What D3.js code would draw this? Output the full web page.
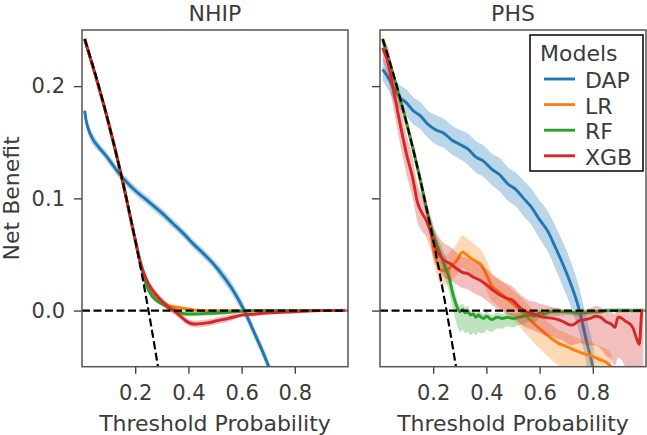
<!DOCTYPE html>
<html>
<head>
<meta charset="utf-8">
<script src="https://cdn.jsdelivr.net/npm/d3@7"></script>
<style>
    body { margin: 0; background: #fff; }
    svg text { font-family: "DejaVu Sans", sans-serif; fill: #3b3b3b; }
</style>
</head>
<body>
<div id="chart"></div>
<script>
// Panels, models and ticks
const panels = ["NHIP", "PHS"];
const models = ["DAP", "LR", "RF", "XGB"];
const xTicks = [0.2, 0.4, 0.6, 0.8];
const yTicks = [0.0, 0.1, 0.2];

// Reference strategies: treat all / treat none
const treatAllX = [0.01, 0.05, 0.1, 0.15, 0.2, 0.25, 0.3];
const treatAllNB = [0.242, 0.211, 0.167, 0.118, 0.063, 0.0, -0.071];
const treatNoneX = [0, 1];
const treatNoneNB = [0, 0];

// ---- NHIP ----
const nhipDapX = [0.01, 0.015, 0.025, 0.04, 0.065, 0.09, 0.115, 0.14, 0.17, 0.2, 0.23, 0.26, 0.3, 0.34, 0.38, 0.42, 0.46, 0.5, 0.53, 0.56, 0.59, 0.62, 0.65, 0.68, 0.715];
const nhipDapNB = [0.178, 0.170, 0.161, 0.153, 0.145, 0.138, 0.130, 0.122, 0.114, 0.107, 0.101, 0.095, 0.087, 0.078, 0.069, 0.059, 0.050, 0.040, 0.031, 0.021, 0.009, -0.005, -0.021, -0.037, -0.058];
const nhipDapBand = [0.005, 0.005, 0.005, 0.005, 0.004, 0.004, 0.004, 0.004, 0.004, 0.004, 0.004, 0.004, 0.004, 0.004, 0.004, 0.004, 0.004, 0.004, 0.005, 0.005, 0.005, 0.005, 0.005, 0.005, 0.005];

const nhipLrX = [0.01, 0.05, 0.1, 0.15, 0.2, 0.22, 0.24, 0.26, 0.29, 0.32, 0.35, 0.38, 0.42, 0.46, 0.6, 0.8, 0.99];
const nhipLrNB = [0.242, 0.210, 0.167, 0.118, 0.063, 0.042, 0.026, 0.018, 0.010, 0.005, 0.003, 0.002, 0.0005, 0.0, 0.0, 0.0, 0.0];
const nhipLrBand = [0.001, 0.001, 0.001, 0.001, 0.002, 0.003, 0.003, 0.003, 0.003, 0.002, 0.002, 0.002, 0.001, 0.001, 0.001, 0.001, 0.001];

const nhipRfX = [0.01, 0.05, 0.1, 0.15, 0.2, 0.22, 0.24, 0.26, 0.28, 0.3, 0.33, 0.36, 0.39, 0.42, 0.47, 0.52, 0.58, 0.65, 0.8, 0.99];
const nhipRfNB = [0.242, 0.210, 0.167, 0.118, 0.063, 0.041, 0.024, 0.014, 0.009, 0.006, 0.002, -0.001, -0.003, -0.003, -0.0025, -0.002, -0.001, 0.0, 0.0, 0.0];
const nhipRfBand = [0.001, 0.001, 0.001, 0.001, 0.002, 0.002, 0.002, 0.002, 0.002, 0.002, 0.002, 0.002, 0.002, 0.002, 0.002, 0.002, 0.001, 0.001, 0.001, 0.001];

const nhipXgbX = [0.01, 0.05, 0.1, 0.15, 0.2, 0.22, 0.24, 0.26, 0.29, 0.32, 0.35, 0.37, 0.39, 0.41, 0.43, 0.47, 0.51, 0.55, 0.6, 0.65, 0.7, 0.8, 0.9, 0.99];
const nhipXgbNB = [0.242, 0.210, 0.167, 0.118, 0.063, 0.043, 0.029, 0.020, 0.011, 0.004, -0.001, -0.005, -0.009, -0.0115, -0.012, -0.011, -0.009, -0.007, -0.004, -0.003, -0.002, -0.001, 0.0, 0.0];
const nhipXgbBand = [0.001, 0.001, 0.001, 0.002, 0.003, 0.003, 0.003, 0.003, 0.003, 0.003, 0.003, 0.003, 0.003, 0.003, 0.003, 0.003, 0.003, 0.003, 0.002, 0.002, 0.002, 0.001, 0.001, 0.001];

// ---- PHS ----
const phsDapX = [0.01, 0.03, 0.05, 0.075, 0.1, 0.125, 0.15, 0.18, 0.21, 0.24, 0.27, 0.3, 0.33, 0.36, 0.39, 0.42, 0.45, 0.48, 0.51, 0.54, 0.57, 0.6, 0.63, 0.66, 0.69, 0.72, 0.745, 0.76, 0.775, 0.79, 0.805];
const phsDapNB = [0.215, 0.208, 0.199, 0.190, 0.185, 0.178, 0.174, 0.166, 0.161, 0.158, 0.152, 0.148, 0.144, 0.137, 0.133, 0.126, 0.121, 0.113, 0.108, 0.100, 0.092, 0.081, 0.071, 0.056, 0.040, 0.022, 0.004, -0.010, -0.026, -0.040, -0.055];
const phsDapBand = [0.010, 0.011, 0.011, 0.011, 0.012, 0.012, 0.012, 0.012, 0.013, 0.013, 0.013, 0.013, 0.014, 0.014, 0.014, 0.014, 0.015, 0.015, 0.015, 0.016, 0.016, 0.017, 0.018, 0.019, 0.020, 0.020, 0.020, 0.020, 0.020, 0.020, 0.020];

const phsLrX = [0.01, 0.05, 0.1, 0.15, 0.19, 0.2, 0.215, 0.23, 0.25, 0.27, 0.29, 0.31, 0.325, 0.34, 0.36, 0.38, 0.40, 0.42, 0.44, 0.46, 0.49, 0.52, 0.55, 0.58, 0.61, 0.64, 0.67, 0.70, 0.73, 0.76, 0.79, 0.82, 0.85, 0.87];
const phsLrNB = [0.242, 0.210, 0.167, 0.118, 0.072, 0.056, 0.043, 0.036, 0.036, 0.040, 0.045, 0.052, 0.050, 0.047, 0.044, 0.041, 0.032, 0.022, 0.018, 0.014, 0.008, 0.002, -0.005, -0.012, -0.018, -0.024, -0.029, -0.032, -0.035, -0.038, -0.040, -0.043, -0.046, -0.050];
const phsLrDown = [0.002, 0.002, 0.002, 0.003, 0.006, 0.010, 0.012, 0.013, 0.013, 0.013, 0.013, 0.014, 0.014, 0.014, 0.014, 0.014, 0.014, 0.013, 0.013, 0.013, 0.014, 0.015, 0.016, 0.017, 0.018, 0.019, 0.020, 0.020, 0.020, 0.020, 0.020, 0.020, 0.020, 0.020];
const phsLrUp = [0.002, 0.002, 0.002, 0.003, 0.006, 0.010, 0.012, 0.013, 0.013, 0.014, 0.015, 0.015, 0.015, 0.015, 0.014, 0.013, 0.013, 0.012, 0.012, 0.012, 0.012, 0.012, 0.012, 0.012, 0.012, 0.012, 0.012, 0.012, 0.012, 0.012, 0.012, 0.012, 0.012, 0.012];

const phsRfX = [0.01, 0.05, 0.1, 0.15, 0.18, 0.2, 0.22, 0.24, 0.26, 0.275, 0.29, 0.30, 0.31, 0.32, 0.33, 0.34, 0.35, 0.36, 0.37, 0.38, 0.39, 0.40, 0.42, 0.44, 0.46, 0.48, 0.50, 0.52, 0.54, 0.56, 0.58, 0.60, 0.62, 0.64, 0.66, 0.70, 0.74, 0.77, 0.80, 0.83, 0.85, 0.99];
const phsRfNB = [0.242, 0.210, 0.167, 0.118, 0.085, 0.068, 0.055, 0.042, 0.029, 0.014, 0.003, -0.001, 0.001, -0.002, -0.001, -0.004, -0.003, -0.006, -0.004, -0.006, -0.007, -0.005, -0.008, -0.006, -0.007, -0.006, -0.007, -0.006, -0.005, -0.004, -0.005, -0.002, -0.003, -0.001, -0.001, -0.001, -0.002, -0.002, -0.001, -0.001, 0.0, 0.0];
const phsRfDown = [0.002, 0.002, 0.002, 0.002, 0.004, 0.006, 0.008, 0.010, 0.012, 0.014, 0.016, 0.018, 0.018, 0.018, 0.018, 0.018, 0.017, 0.016, 0.015, 0.014, 0.013, 0.012, 0.011, 0.010, 0.009, 0.008, 0.008, 0.007, 0.007, 0.006, 0.006, 0.005, 0.005, 0.004, 0.004, 0.003, 0.003, 0.003, 0.003, 0.002, 0.002, 0.002];
const phsRfUp = [0.002, 0.002, 0.002, 0.002, 0.004, 0.006, 0.008, 0.010, 0.010, 0.008, 0.006, 0.005, 0.005, 0.005, 0.005, 0.004, 0.004, 0.004, 0.004, 0.004, 0.004, 0.004, 0.004, 0.004, 0.004, 0.004, 0.004, 0.004, 0.004, 0.003, 0.003, 0.003, 0.003, 0.003, 0.003, 0.002, 0.002, 0.002, 0.002, 0.002, 0.002, 0.002];

const phsXgbX = [0.01, 0.02, 0.03, 0.05, 0.075, 0.1, 0.125, 0.14, 0.16, 0.175, 0.19, 0.207, 0.22, 0.24, 0.263, 0.29, 0.31, 0.33, 0.35, 0.376, 0.40, 0.426, 0.45, 0.476, 0.5, 0.52, 0.54, 0.56, 0.58, 0.6, 0.62, 0.65, 0.67, 0.69, 0.72, 0.75, 0.77, 0.79, 0.81, 0.83, 0.85, 0.87, 0.883, 0.895, 0.91, 0.92, 0.94, 0.95, 0.965, 0.975, 0.985, 0.99];
const phsXgbNB = [0.234, 0.228, 0.221, 0.197, 0.167, 0.139, 0.116, 0.097, 0.086, 0.080, 0.070, 0.057, 0.051, 0.045, 0.042, 0.037, 0.034, 0.033, 0.030, 0.027, 0.023, 0.018, 0.014, 0.011, 0.009, 0.004, 0.000, -0.002, -0.003, -0.005, -0.006, -0.007, -0.008, -0.010, -0.013, -0.009, -0.008, -0.007, -0.005, -0.006, -0.010, -0.012, -0.015, -0.006, -0.007, -0.009, -0.012, -0.015, -0.025, -0.030, 0.000, 0.000];
const phsXgbDown = [0.010, 0.012, 0.014, 0.016, 0.018, 0.018, 0.018, 0.017, 0.016, 0.015, 0.015, 0.015, 0.015, 0.015, 0.015, 0.014, 0.014, 0.014, 0.014, 0.014, 0.014, 0.014, 0.014, 0.014, 0.014, 0.014, 0.014, 0.014, 0.015, 0.015, 0.016, 0.016, 0.017, 0.017, 0.018, 0.020, 0.022, 0.024, 0.026, 0.028, 0.030, 0.032, 0.034, 0.036, 0.038, 0.040, 0.042, 0.044, 0.046, 0.048, 0.050, 0.050];
const phsXgbUp = [0.010, 0.012, 0.014, 0.016, 0.018, 0.018, 0.018, 0.017, 0.016, 0.015, 0.015, 0.015, 0.015, 0.015, 0.015, 0.014, 0.014, 0.014, 0.014, 0.014, 0.014, 0.013, 0.013, 0.013, 0.012, 0.012, 0.012, 0.011, 0.011, 0.011, 0.011, 0.010, 0.010, 0.010, 0.010, 0.010, 0.009, 0.009, 0.009, 0.009, 0.009, 0.010, 0.012, 0.008, 0.008, 0.009, 0.010, 0.016, 0.026, 0.031, 0.002, 0.002];

// Table of series per panel, built from the arrays above
const panelSeries = {
    NHIP: [
        { model: "DAP", x: nhipDapX, nb: nhipDapNB, down: nhipDapBand, up: nhipDapBand },
        { model: "LR", x: nhipLrX, nb: nhipLrNB, down: nhipLrBand, up: nhipLrBand },
        { model: "RF", x: nhipRfX, nb: nhipRfNB, down: nhipRfBand, up: nhipRfBand },
        { model: "XGB", x: nhipXgbX, nb: nhipXgbNB, down: nhipXgbBand, up: nhipXgbBand }
    ],
    PHS: [
        { model: "DAP", x: phsDapX, nb: phsDapNB, down: phsDapBand, up: phsDapBand },
        { model: "LR", x: phsLrX, nb: phsLrNB, down: phsLrDown, up: phsLrUp },
        { model: "RF", x: phsRfX, nb: phsRfNB, down: phsRfDown, up: phsRfUp },
        { model: "XGB", x: phsXgbX, nb: phsXgbNB, down: phsXgbDown, up: phsXgbUp }
    ]
};

const svg = d3.select("#chart").append("svg")
    .attr("width", 647)
    .attr("height", 435);

const color = d3.scaleOrdinal()
    .domain(models)
    .range(["#1f77b4", "#ff7f0e", "#2ca02c", "#d62728"]);

const plotTop = 30, plotBottom = 366.7;
const frames = [{ left: 82, right: 348 }, { left: 380, right: 646 }];

const yScale = d3.scaleLinear().domain([-0.05, 0.25]).range([plotBottom, plotTop]);

const toPoints = (xs, ys) => xs.map((x, i) => ({ x: x, y: ys[i] }));

panels.forEach((name, p) => {
    const f = frames[p];
    const xScale = d3.scaleLinear().domain([0, 1]).range([f.left, f.right]);
    const g = svg.append("g");

    g.append("clipPath").attr("id", "clip" + p)
        .append("rect")
        .attr("x", f.left).attr("y", plotTop)
        .attr("width", f.right - f.left).attr("height", plotBottom - plotTop);

    const plot = g.append("g").attr("clip-path", `url(#clip${p})`);

    const line = d3.line()
        .x(d => xScale(d.x))
        .y(d => yScale(d.y))
        .curve(d3.curveMonotoneX);

    const area = d3.area()
        .x(d => xScale(d.x))
        .y0(d => yScale(d.y - d.down))
        .y1(d => yScale(d.y + d.up))
        .curve(d3.curveMonotoneX);

    // bands then lines, one model at a time
    panelSeries[name].forEach(s => {
        const pts = s.x.map((x, i) => ({ x: x, y: s.nb[i], down: s.down[i], up: s.up[i] }));
        plot.append("path")
            .attr("d", area(pts))
            .attr("fill", color(s.model))
            .attr("fill-opacity", 0.3);
        plot.append("path")
            .attr("d", line(pts))
            .attr("fill", "none")
            .attr("stroke", color(s.model))
            .attr("stroke-width", 2.9);
    });

    // treat all / treat none
    [toPoints(treatAllX, treatAllNB), toPoints(treatNoneX, treatNoneNB)].forEach(pts => {
        plot.append("path")
            .attr("d", line(pts))
            .attr("fill", "none")
            .attr("stroke", "#000")
            .attr("stroke-width", 2.2)
            .attr("stroke-dasharray", "8,3.5");
    });

    // Axes
    const xAxis = g.append("g")
        .attr("transform", `translate(0, ${plotBottom})`)
        .call(d3.axisBottom(xScale).tickValues(xTicks).tickSize(7).tickPadding(11).tickFormat(d3.format(".1f")));

    const yAxis = g.append("g")
        .attr("transform", `translate(${f.left}, 0)`)
        .call(d3.axisLeft(yScale).tickValues(yTicks).tickSize(8).tickPadding(9)
            .tickFormat(p === 0 ? d3.format(".1f") : () => ""));

    [xAxis, yAxis].forEach(a => {
        a.select(".domain").remove();
        a.selectAll(".tick line").attr("stroke", "#444").attr("stroke-width", 1.4);
        a.selectAll(".tick text").attr("font-size", "21px").attr("fill", "#3b3b3b");
    });

    // frame
    g.append("rect")
        .attr("x", f.left).attr("y", plotTop)
        .attr("width", f.right - f.left).attr("height", plotBottom - plotTop)
        .attr("fill", "none")
        .attr("stroke", "#555")
        .attr("stroke-width", 1.5);

    // title and x label
    g.append("text")
        .attr("x", (f.left + f.right) / 2)
        .attr("y", 20.5)
        .attr("text-anchor", "middle")
        .attr("font-size", "22px")
        .text(name);

    g.append("text")
        .attr("x", (f.left + f.right) / 2)
        .attr("y", 430.5)
        .attr("text-anchor", "middle")
        .attr("font-size", "22px")
        .text("Threshold Probability");
});

svg.append("text")
    .attr("transform", `translate(18.5, ${(plotTop + plotBottom) / 2}) rotate(-90)`)
    .attr("text-anchor", "middle")
    .attr("font-size", "22px")
    .text("Net Benefit");

// Legend
const legend = svg.append("g");
legend.append("rect")
    .attr("x", 530).attr("y", 35)
    .attr("width", 113).attr("height", 136)
    .attr("fill", "#fff")
    .attr("stroke", "#000")
    .attr("stroke-width", 1.5);

legend.append("text")
    .attr("x", 540).attr("y", 61)
    .attr("font-size", "22px")
    .text("Models");

models.forEach((m, i) => {
    const y = 88 + i * 25.6;
    legend.append("line")
        .attr("x1", 544).attr("x2", 575)
        .attr("y1", y - 9).attr("y2", y - 9)
        .attr("stroke", color(m))
        .attr("stroke-width", 2.9);
    legend.append("text")
        .attr("x", 585).attr("y", y)
        .attr("font-size", "22px")
        .text(m);
});
</script>
</body>
</html>
